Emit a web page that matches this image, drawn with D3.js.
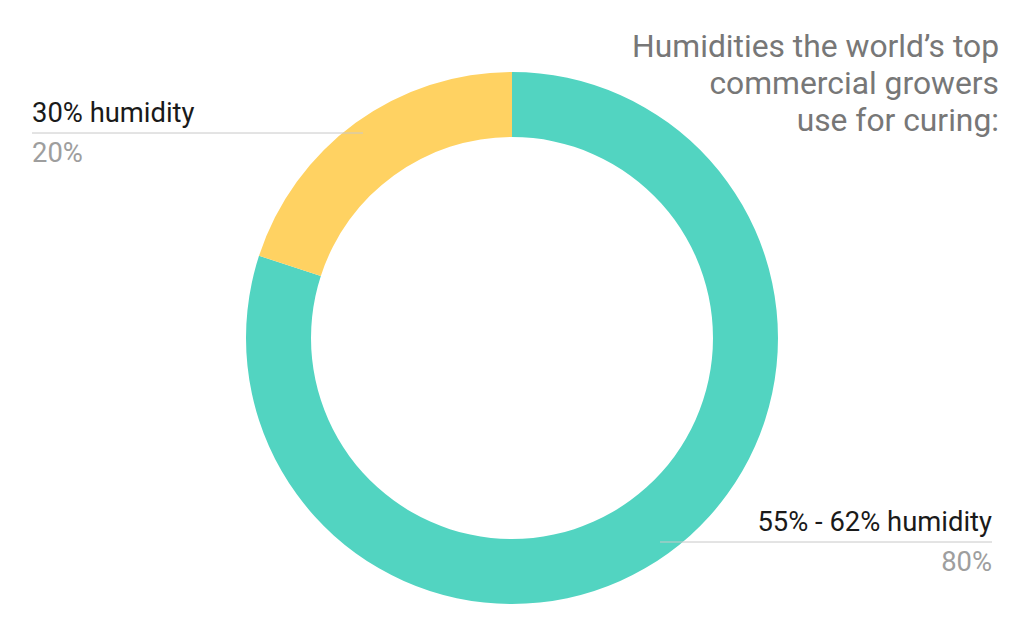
<!DOCTYPE html>
<html><head><meta charset="utf-8">
<script src="https://cdn.jsdelivr.net/npm/d3@7"></script>
<style>html,body{margin:0;padding:0;background:#fff;}svg{display:block;font-family:Roboto,"Noto Sans",sans-serif;}</style>
</head><body>
<svg id="c" width="1024" height="635"></svg>
<script>
const categories = ["55% - 62% humidity", "30% humidity"];
const values = [80, 20];
const valueLabels = ["80%", "20%"];
const colors = ["#52d4c1", "#ffd262"];
const titleLines = ["Humidities the world\u2019s top", "commercial growers", "use for curing:"];

const svg = d3.select("#c");
const cx = 512, cy = 338, rOuter = 266, rInner = 201;

const pie = d3.pie().sort(null).value(d => d.v);
const data = categories.map((c, i) => ({c, v: values[i], lab: valueLabels[i], col: colors[i]}));
const arcs = pie(data);
const arc = d3.arc().innerRadius(rInner).outerRadius(rOuter);

const g = svg.append("g").attr("transform", `translate(${cx},${cy})`);
g.selectAll("path").data(arcs).join("path")
  .attr("d", arc).attr("fill", d => d.data.col);

// title
const t = svg.append("text").attr("text-anchor", "end").attr("fill", "#777")
  .attr("font-size", 31.8);
titleLines.forEach((l, i) => t.append("tspan").attr("x", 999).attr("y", 57 + i * 37).text(l));

// labels
const labelSpec = [
  {anchor: "end", x: 992, lineX1: 660, lineX2: 992, y: 542},
  {anchor: "start", x: 32, lineX1: 32, lineX2: 363, y: 133}
];
arcs.forEach((a, i) => {
  const s = labelSpec[i];
  svg.append("line").attr("x1", s.lineX1).attr("x2", s.lineX2)
    .attr("y1", s.y).attr("y2", s.y).attr("stroke", "#c8c8c8").attr("stroke-width", 1);
  svg.append("text").attr("x", s.x).attr("y", s.y - 11).attr("text-anchor", s.anchor)
    .attr("font-size", 27.4).attr("fill", "#1a1a1a").text(a.data.c);
  svg.append("text").attr("x", s.x).attr("y", s.y + 29).attr("text-anchor", s.anchor)
    .attr("font-size", 27.4).attr("fill", "#9e9e9e").text(a.data.lab);
});
</script>
</body></html>
